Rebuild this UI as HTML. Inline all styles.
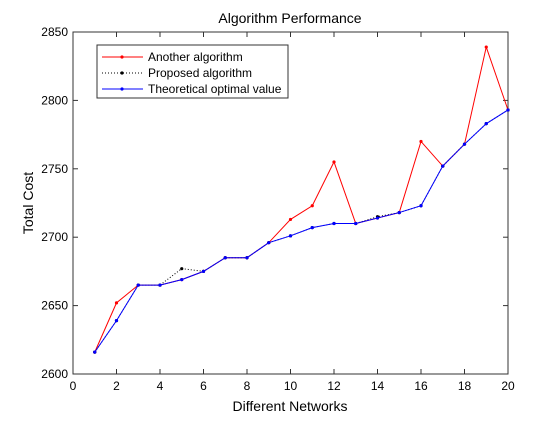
<!DOCTYPE html>
<html><head><meta charset="utf-8"><style>
body{margin:0;background:#fff;font-family:"Liberation Sans",sans-serif}
svg text{font-family:"Liberation Sans",sans-serif}
</style></head><body>
<svg id="chart" width="560" height="420" xmlns="http://www.w3.org/2000/svg">
<rect width="560" height="420" fill="#fff"/>
<text x="290" y="23" font-size="14" text-anchor="middle">Algorithm Performance</text>
<text x="290" y="411" font-size="14" text-anchor="middle">Different Networks</text>
<text transform="translate(33,203) rotate(-90)" font-size="14" text-anchor="middle">Total Cost</text>
<g id="axes"></g>
<g id="series"></g>
<g>
<rect x="97" y="45" width="191" height="53" fill="#fff" stroke="#333" stroke-width="1"/>
<line x1="102" y1="57" x2="143" y2="57" stroke="#f00"/><circle cx="122" cy="57" r="1.6" fill="#f00"/>
<text x="148" y="61" font-size="12">Another algorithm</text>
<line x1="102" y1="73" x2="143" y2="73" stroke="#000" stroke-dasharray="1,2"/><circle cx="122" cy="73" r="1.6" fill="#000"/>
<text x="148" y="77" font-size="12">Proposed algorithm</text>
<line x1="102" y1="89" x2="143" y2="89" stroke="#00f"/><circle cx="122" cy="89" r="1.6" fill="#00f"/>
<text x="148" y="93" font-size="12">Theoretical optimal value</text>
</g>
</svg>
<script>
const xs=[1,2,3,4,5,6,7,8,9,10,11,12,13,14,15,16,17,18,19,20];
const another=[2616,2652,2665,2665,2669,2675,2685,2685,2696,2713,2723,2755,2710,2714,2718,2770,2752,2768,2839,2793];
const proposed=[2616,2639,2665,2665,2677,2675,2685,2685,2696,2701,2707,2710,2710,2715,2718,2723,2752,2768,2783,2793];
const optimal=[2616,2639,2665,2665,2669,2675,2685,2685,2696,2701,2707,2710,2710,2714,2718,2723,2752,2768,2783,2793];
const xTicks=[0,2,4,6,8,10,12,14,16,18,20];
const yTicks=[2600,2650,2700,2750,2800,2850];
const L=73,R=508,T=32,B=374;
const X=v=>L+(v-0)/20*(R-L);
const Y=v=>B-(v-2600)/250*(B-T);
const NS="http://www.w3.org/2000/svg";
function mk(t,a,p){const e=document.createElementNS(NS,t);for(const k in a)e.setAttribute(k,a[k]);p.appendChild(e);return e;}
const ax=document.getElementById('axes');
const frame=mk('rect',{x:L,y:T,width:R-L,height:B-T,fill:'none',stroke:'#333','stroke-width':1},ax);


xTicks.forEach(t=>{const x=X(t);
mk('line',{x1:x,y1:B,x2:x,y2:B-5,stroke:'#333'},ax);mk('line',{x1:x,y1:T,x2:x,y2:T+5,stroke:'#333'},ax);
const tx=mk('text',{x:x,y:B+16,'font-size':12,'text-anchor':'middle'},ax);tx.textContent=t;

});
yTicks.forEach(t=>{const y=Y(t);
mk('line',{x1:L,y1:y,x2:L+5,y2:y,stroke:'#333'},ax);mk('line',{x1:R,y1:y,x2:R-5,y2:y,stroke:'#333'},ax);
const tx=mk('text',{x:L-5,y:y+4,'font-size':12,'text-anchor':'end'},ax);tx.textContent=t;

});
const sg=document.getElementById('series');
function draw(vals,col,dash,name){
const g=mk('g',{},sg);


const pl=mk('polyline',{points:vals.map((v,i)=>X(xs[i])+','+Y(v)).join(' '),fill:'none',stroke:col,'stroke-width':1},g);
if(dash)pl.setAttribute('stroke-dasharray','1,2');
vals.forEach((v,i)=>{const c=mk('circle',{cx:X(xs[i]),cy:Y(v),r:1.6,fill:col},g);

});
}
draw(another,'#f00',false,'series-another');
draw(proposed,'#000',true,'series-proposed');
draw(optimal,'#00f',false,'series-optimal');
</script>
</body></html>
